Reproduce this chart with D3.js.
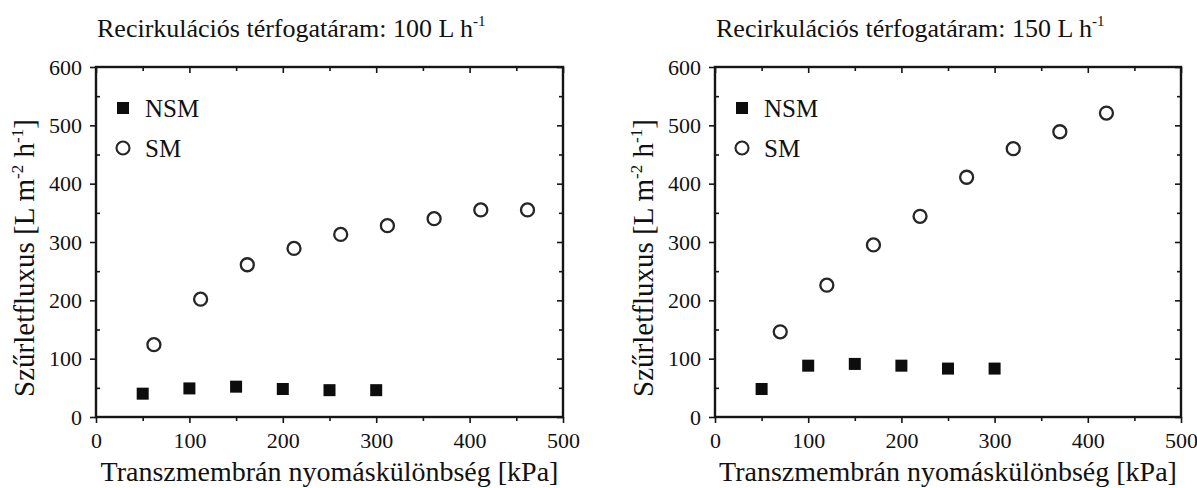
<!DOCTYPE html>
<html>
<head>
<meta charset="utf-8">
<script src="https://cdn.jsdelivr.net/npm/d3@7/dist/d3.min.js"></script>
<style>
  html, body { margin: 0; padding: 0; background: #fff; }
  svg { display: block; }
  text { font-family: "Liberation Serif", "Times New Roman", serif; fill: #111; }
</style>
</head>
<body>
<svg id="chart" width="1197" height="488"></svg>
<script>
// Transmembrane pressure (kPa) and permeate flux (L m-2 h-1)
const nsmPressure = [50, 100, 150, 200, 250, 300];

const flow100Label = "100 L h";
const nsmFlux100 = [40, 49, 52, 48, 46, 46];
const smPressure100 = [62, 112, 162, 212, 262, 312, 362, 412, 462];
const smFlux100 = [124, 202, 261, 289, 313, 328, 340, 355, 355];

const flow150Label = "150 L h";
const nsmFlux150 = [48, 88, 91, 88, 83, 83];
const smPressure150 = [70, 120, 170, 220, 270, 320, 370, 420];
const smFlux150 = [146, 226, 295, 344, 411, 460, 489, 521];

const xTicks = [0, 100, 200, 300, 400, 500];
const yTicks = [0, 100, 200, 300, 400, 500, 600];
const xMinor = [50, 150, 250, 350, 450];
const yMinor = [50, 150, 250, 350, 450, 550];
const legendNames = ["NSM", "SM"];

const svg = d3.select("#chart");

const panels = [
  { left: 96, right: 563, flow: flow100Label, nsm: nsmFlux100, smX: smPressure100, sm: smFlux100 },
  { left: 715, right: 1181, flow: flow150Label, nsm: nsmFlux150, smX: smPressure150, sm: smFlux150 }
];
const plotTop = 67, plotBottom = 417;
const serif = '"Liberation Serif", "Times New Roman", serif';

panels.forEach(p => {
  const g = svg.append("g");
  const x = d3.scaleLinear().domain([0, 500]).range([p.left, p.right]);
  const y = d3.scaleLinear().domain([0, 600]).range([plotBottom, plotTop]);

  const styleAxis = sel => {
    sel.select(".domain").remove();
    sel.selectAll(".tick line").attr("stroke", "#151515").attr("stroke-width", 1.6);
    sel.selectAll(".tick text")
      .style("font-family", serif)
      .style("font-size", "22px").attr("fill", "#111");
  };

  // bottom axis: ticks point outward, labels on the hundreds
  g.append("g").attr("transform", `translate(0,${plotBottom})`)
    .call(d3.axisBottom(x).tickValues(xTicks).tickSize(6).tickPadding(9).tickFormat(d3.format("d")))
    .call(styleAxis);
  g.append("g").attr("transform", `translate(0,${plotBottom})`)
    .call(d3.axisBottom(x).tickValues(xMinor).tickSize(4).tickFormat(""))
    .call(styleAxis);

  // left axis: labelled ticks outward, half-steps inward
  g.append("g").attr("transform", `translate(${p.left},0)`)
    .call(d3.axisLeft(y).tickValues(yTicks).tickSize(6).tickPadding(8).tickFormat(d3.format("d")))
    .call(styleAxis);
  g.append("g").attr("transform", `translate(${p.left},0)`)
    .call(d3.axisLeft(y).tickValues(yMinor).tickSize(-4).tickFormat(""))
    .call(styleAxis);

  // mirrored ticks on top and right, pointing inward
  g.append("g").attr("transform", `translate(0,${plotTop})`)
    .call(d3.axisTop(x).tickValues(xTicks).tickSize(-6).tickFormat(""))
    .call(styleAxis);
  g.append("g").attr("transform", `translate(0,${plotTop})`)
    .call(d3.axisTop(x).tickValues(xMinor).tickSize(-4).tickFormat(""))
    .call(styleAxis);
  g.append("g").attr("transform", `translate(${p.right},0)`)
    .call(d3.axisRight(y).tickValues(yTicks).tickSize(-6).tickFormat(""))
    .call(styleAxis);
  g.append("g").attr("transform", `translate(${p.right},0)`)
    .call(d3.axisRight(y).tickValues(yMinor).tickSize(-4).tickFormat(""))
    .call(styleAxis);

  // frame
  g.append("rect")
    .attr("x", p.left).attr("y", plotTop)
    .attr("width", p.right - p.left).attr("height", plotBottom - plotTop)
    .attr("fill", "none").attr("stroke", "#151515").attr("stroke-width", 2.4);

  // NSM: filled squares
  const sq = 12;
  g.selectAll("rect.nsm").data(nsmPressure.map((d, i) => [d, p.nsm[i]])).join("rect")
    .attr("class", "nsm")
    .attr("x", d => x(d[0]) - sq / 2).attr("y", d => y(d[1]) - sq / 2)
    .attr("width", sq).attr("height", sq).attr("fill", "#0d0d0d");

  // SM: open circles
  g.selectAll("circle.sm").data(p.smX.map((d, i) => [d, p.sm[i]])).join("circle")
    .attr("class", "sm")
    .attr("cx", d => x(d[0])).attr("cy", d => y(d[1])).attr("r", 6.5)
    .attr("fill", "#fff").attr("stroke", "#262626").attr("stroke-width", 2.3);

  // legend
  const lx = p.left + 27;
  g.append("rect").attr("x", lx - 6).attr("y", 108 - 6).attr("width", 12).attr("height", 12).attr("fill", "#0d0d0d");
  g.append("circle").attr("cx", lx).attr("cy", 148).attr("r", 6.5)
    .attr("fill", "#fff").attr("stroke", "#262626").attr("stroke-width", 2.1);
  g.append("text").attr("x", lx + 22).attr("y", 117).style("font-size", "25px").text(legendNames[0]);
  g.append("text").attr("x", lx + 22).attr("y", 157).style("font-size", "25px").text(legendNames[1]);

  // panel title
  const t = g.append("text").attr("x", p.left + 1).attr("y", 37).style("font-size", "26px");
  t.append("tspan").text("Recirkulációs térfogatáram: " + p.flow);
  t.append("tspan").attr("dy", -11).style("font-size", "15px").text("-1");

  // x axis title
  g.append("text").attr("x", (p.left + p.right) / 2).attr("y", 481)
    .attr("text-anchor", "middle").style("font-size", "28px")
    .text("Transzmembrán nyomáskülönbség [kPa]");

  // y axis title
  const yl = g.append("text")
    .attr("transform", `translate(${p.left - 62},${258}) rotate(-90)`)
    .attr("text-anchor", "middle").style("font-size", "29px");
  yl.append("tspan").text("Szűrletfluxus [L m");
  yl.append("tspan").attr("dy", -11).style("font-size", "17px").text("-2");
  yl.append("tspan").attr("dy", 11).text(" h");
  yl.append("tspan").attr("dy", -11).style("font-size", "17px").text("-1");
  yl.append("tspan").attr("dy", 11).text("]");
});
</script>
</body>
</html>
